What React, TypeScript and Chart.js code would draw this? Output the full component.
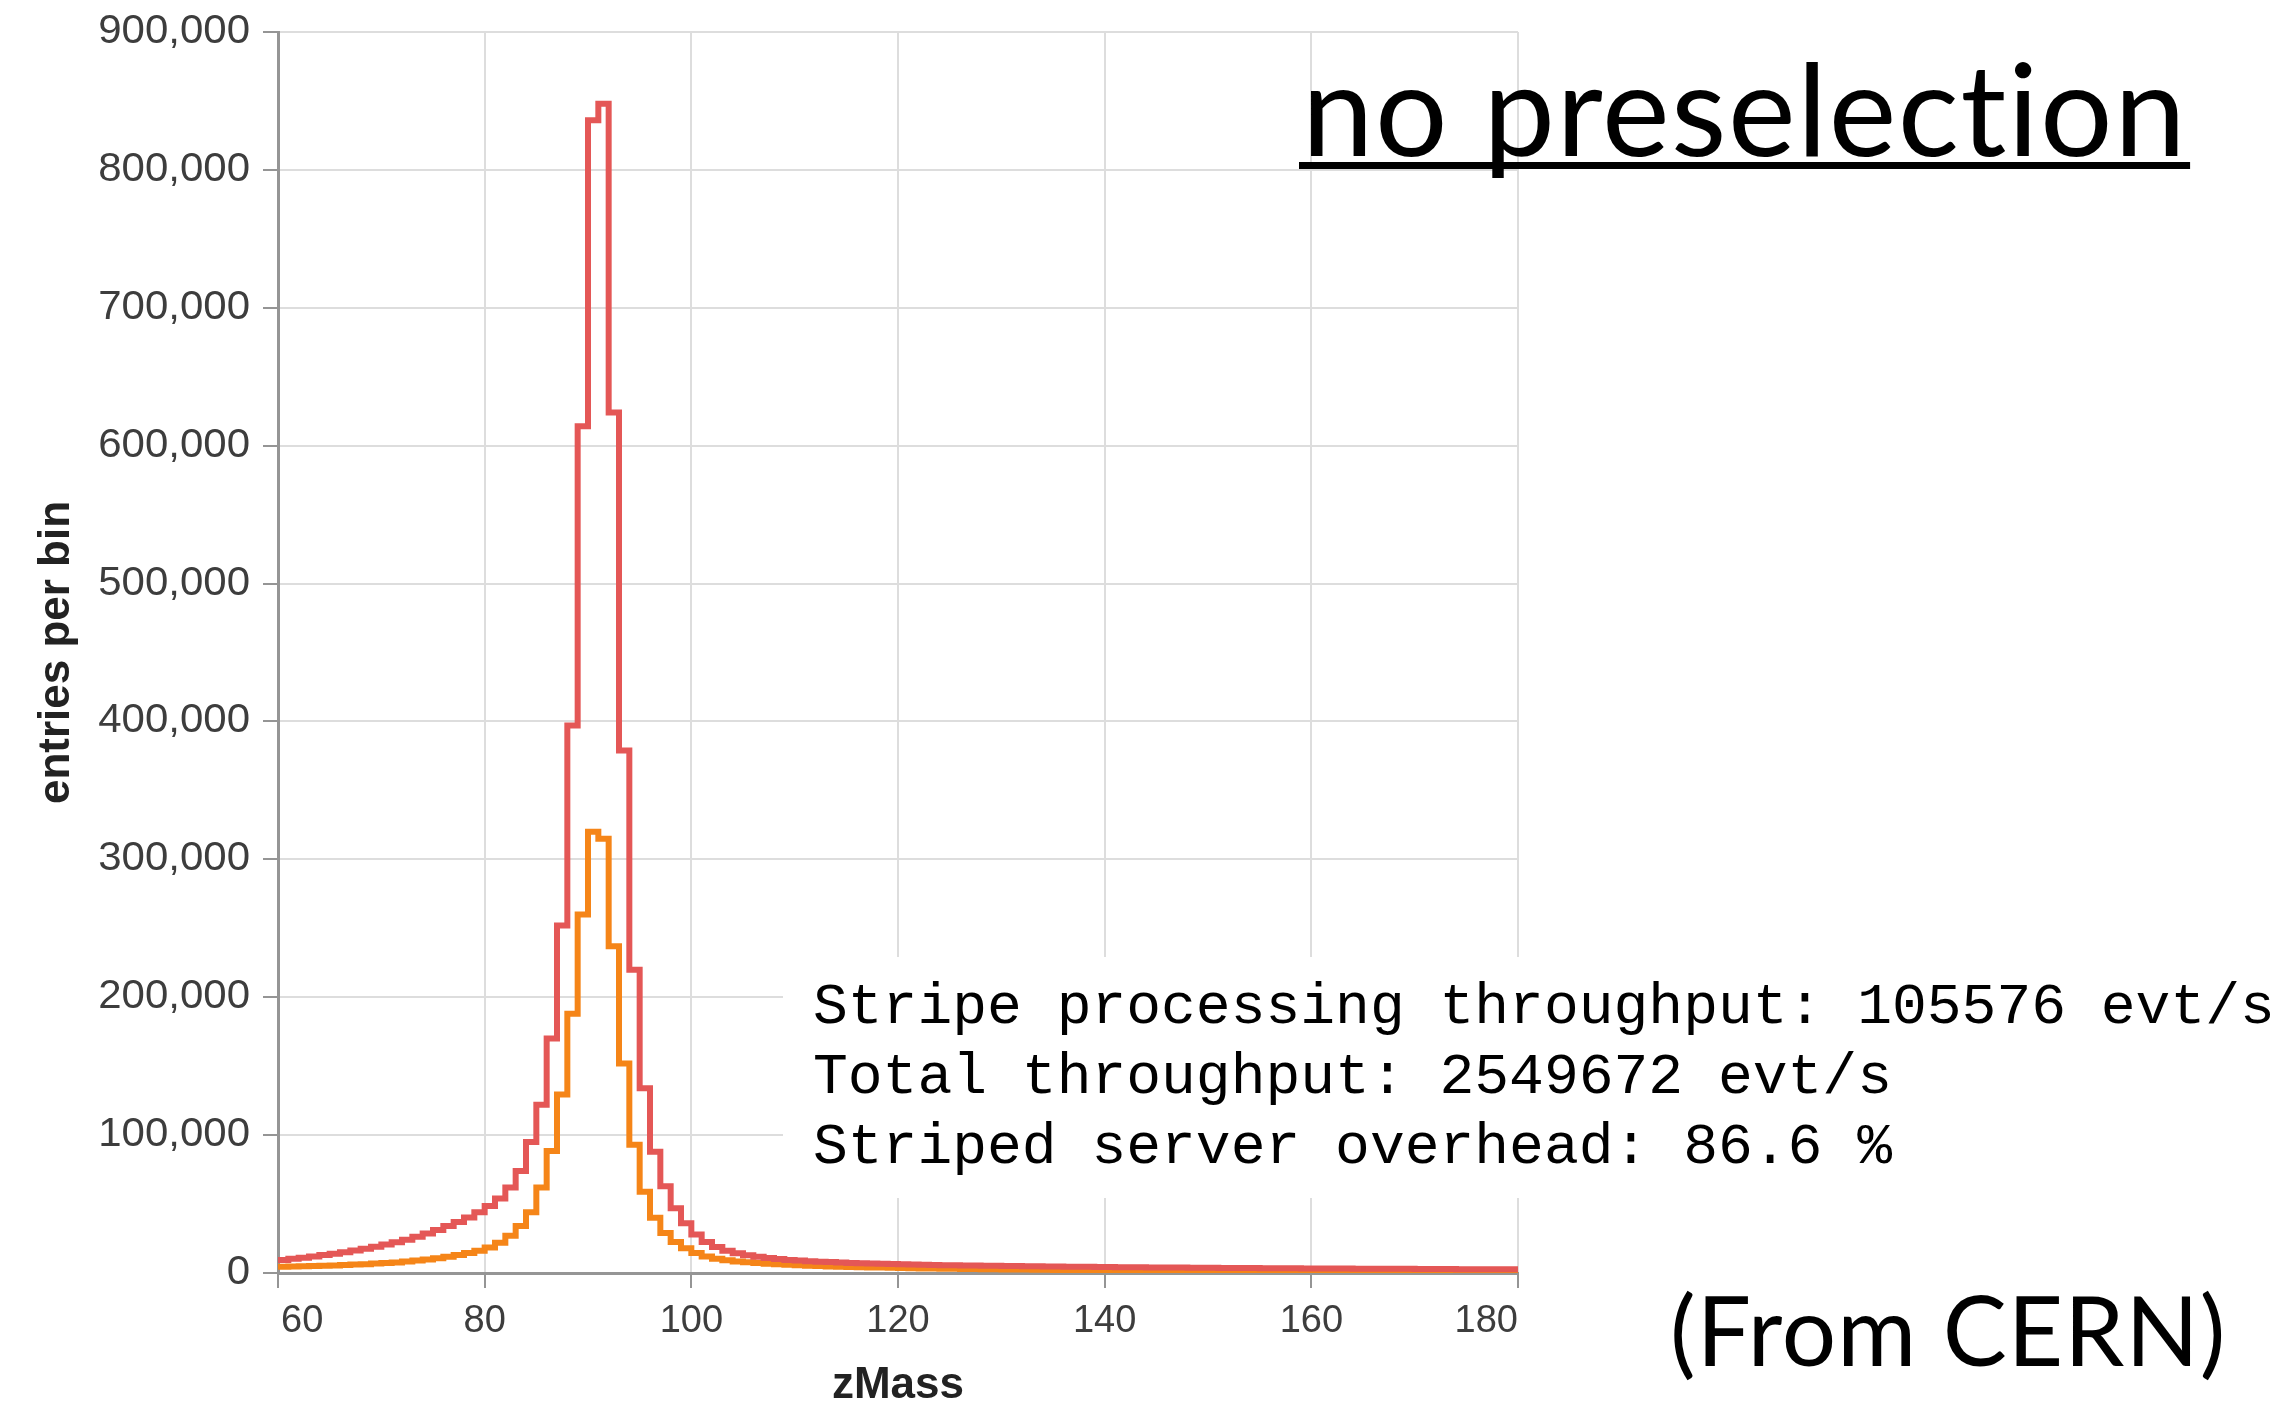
import React, { useEffect, useRef } from 'react';
import { Chart, registerables } from 'chart.js';

Chart.register(...registerables);

// ---------------- data ----------------
const BIN_START = 60; // left edge of first bin (GeV)
const BIN_WIDTH = 1; // GeV
const X_MIN = 60;
const X_MAX = 180;
const X_STEP = 20;
const Y_MIN = 0;
const Y_MAX = 900000;
const Y_STEP = 100000;

// entries per bin, no preselection (red), bins 60..179
const zMassAll = [
  9500, 10300, 11100, 12000, 13000, 14000, 15100, 16300, 17600, 19000,
  20600, 22300, 24200, 26300, 28600, 31200, 34000, 37000, 40300, 44000,
  48500, 54000, 62000, 74000, 95000, 122000, 170000, 252000, 397000, 614000,
  836000, 848000, 624000, 379000, 220000, 134000, 88000, 63000, 47000, 36000,
  28000, 22500, 18800, 16200, 14300, 12800, 11700, 10800, 10100, 9500,
  9000, 8600, 8200, 7900, 7600, 7300, 7050, 6850, 6650, 6450,
  6300, 6150, 6000, 5850, 5700, 5600, 5500, 5400, 5300, 5200,
  5100, 5000, 4900, 4850, 4750, 4700, 4600, 4550, 4450, 4400,
  4300, 4250, 4200, 4150, 4050, 4000, 3950, 3900, 3850, 3800,
  3750, 3700, 3650, 3600, 3550, 3500, 3450, 3450, 3400, 3350,
  3300, 3250, 3250, 3200, 3150, 3100, 3100, 3050, 3000, 3000,
  2950, 2900, 2900, 2850, 2800, 2800, 2750, 2750, 2700, 2700,
];

// entries per bin, second selection (orange), bins 60..179
const zMassSelected = [
  4500, 4700, 4900, 5100, 5300, 5500, 5800, 6100, 6400, 6800,
  7200, 7700, 8300, 9000, 9800, 10700, 11800, 13000, 14500, 16200,
  18500, 22000, 27000, 34000, 44000, 62000, 88500, 129500, 188000, 260000,
  320000, 315000, 237000, 152000, 93000, 59000, 40000, 29000, 22500, 18000,
  14500, 12000, 10300, 9200, 8400, 7800, 7200, 6700, 6300, 5900,
  5600, 5300, 5050, 4800, 4600, 4400, 4200, 4050, 3900, 3750,
  3600, 3500, 3350, 3250, 3150, 3050, 2950, 2850, 2750, 2700,
  2600, 2550, 2450, 2400, 2300, 2250, 2200, 2150, 2100, 2050,
  2000, 1950, 1900, 1850, 1800, 1750, 1700, 1700, 1650, 1600,
  1600, 1550, 1500, 1500, 1450, 1450, 1400, 1400, 1350, 1350,
  1350, 1300, 1300, 1250, 1250, 1200, 1200, 1200, 1150, 1150,
  1150, 1100, 1100, 1100, 1050, 1050, 1050, 1000, 1000, 1000,
];

const X_TITLE = 'zMass';
const Y_TITLE = 'entries per bin';
const PANEL_TITLE = 'no preselection';
const STATS_LINES = [
  'Stripe processing throughput: 105576 evt/s',
  'Total throughput: 2549672 evt/s',
  'Striped server overhead: 86.6 %',
];
const SOURCE_NOTE = '(From CERN)';

// ---------------- styling ----------------
const RED = '#e45756';
const ORANGE = '#f58518';
const GRID = '#dddddd';
const AXIS = '#959595';
const LABEL = '#3d3d3d';
const TITLE = '#222222';
const Y_TICK_FONT = '40px "Liberation Sans", Arial, Helvetica, sans-serif';
const X_TICK_FONT = '38px "Liberation Sans", Arial, Helvetica, sans-serif';
const AXIS_TITLE_FONT = 'bold 44px "Liberation Sans", Arial, Helvetica, sans-serif';

const toSteps = (vals: number[]) => {
  const pts = vals.map((v, i) => ({ x: BIN_START + i * BIN_WIDTH, y: v }));
  pts.push({ x: BIN_START + vals.length * BIN_WIDTH, y: vals[vals.length - 1] });
  return pts;
};

const decorPlugin = {
  id: 'decor',
  afterDraw(chart: any) {
    const ctx: any = chart.ctx;
    const xs = chart.scales.x;
    const ys = chart.scales.y;
    ctx.save();

    // y tick labels (slightly widened, like the reference rendering)
    ctx.fillStyle = LABEL;
    ctx.font = Y_TICK_FONT;
    ctx.textAlign = 'right';
    ctx.textBaseline = 'middle';
    ys.ticks.forEach((t: any) => {
      ctx.save();
      ctx.translate(ys.right - 28, ys.getPixelForValue(t.value));
      ctx.scale(1.05, 1);
      ctx.fillText(Number(t.value).toLocaleString('en-US'), 0, 0);
      ctx.restore();
    });

    // x tick labels (flush at the ends)
    ctx.font = X_TICK_FONT;
    const n = xs.ticks.length;
    xs.ticks.forEach((t: any, i: number) => {
      const px = xs.getPixelForValue(t.value);
      if (i === 0) {
        ctx.textAlign = 'left';
        ctx.fillText(String(t.value), px + 3, xs.top + 49);
      } else if (i === n - 1) {
        ctx.textAlign = 'right';
        ctx.fillText(String(t.value), px, xs.top + 49);
      } else {
        ctx.textAlign = 'center';
        ctx.fillText(String(t.value), px, xs.top + 49);
      }
    });

    // axis titles
    ctx.fillStyle = TITLE;
    ctx.font = AXIS_TITLE_FONT;
    ctx.textAlign = 'center';
    ctx.textBaseline = 'middle';
    ctx.fillText(X_TITLE, (xs.left + xs.right) / 2, 1386);
    ctx.save();
    ctx.translate(57, (ys.top + ys.bottom) / 2);
    ctx.rotate(-Math.PI / 2);
    ctx.fillText(Y_TITLE, 0, 0);
    ctx.restore();

    // stats panel
    ctx.fillStyle = '#ffffff';
    ctx.fillRect(783, 957, 2295 - 783, 1198 - 957);
    ctx.fillStyle = '#000000';
    ctx.font = '58px "Liberation Mono", "Courier New", monospace';
    ctx.textAlign = 'left';
    ctx.textBaseline = 'alphabetic';
    STATS_LINES.forEach((line, i) => ctx.fillText(line, 813, 1023 + i * 70));

    // panel title, underlined (no ligatures)
    ctx.textRendering = 'optimizeSpeed';
    ctx.letterSpacing = '1.5px';
    ctx.font = '128px Lato, "Open Sans", sans-serif';
    ctx.fillText(PANEL_TITLE, 1302, 156);
    const w = ctx.measureText(PANEL_TITLE).width;
    ctx.fillRect(1299, 162, w + 6, 7);

    // source note
    ctx.letterSpacing = '1px';
    ctx.font = '96px Lato, "Open Sans", sans-serif';
    ctx.fillText(SOURCE_NOTE, 1670, 1366);

    ctx.restore();
  },
};

export default function App() {
  const ref = useRef<HTMLCanvasElement>(null);

  useEffect(() => {
    if (!ref.current) return;
    const gridOpts = { color: GRID, lineWidth: 2, drawTicks: true, tickLength: 15, tickColor: AXIS, tickWidth: 2 };
    const chart = new Chart(ref.current, {
      type: 'line',
      data: {
        datasets: [
          {
            label: 'all events',
            data: toSteps(zMassAll),
            borderColor: RED,
            backgroundColor: RED,
            borderWidth: 6,
            pointRadius: 0,
            stepped: 'before',
            fill: false,
            tension: 0,
          },
          {
            label: 'selected',
            data: toSteps(zMassSelected),
            borderColor: ORANGE,
            backgroundColor: ORANGE,
            borderWidth: 6,
            pointRadius: 0,
            stepped: 'before',
            fill: false,
            tension: 0,
          },
        ],
      },
      options: {
        animation: false,
        responsive: true,
        maintainAspectRatio: false,
        devicePixelRatio: 1,
        events: [],
        layout: { padding: { top: 32, right: 777, bottom: 0, left: 0 } },
        plugins: { legend: { display: false }, tooltip: { enabled: false }, title: { display: false } },
        scales: {
          x: {
            type: 'linear',
            min: X_MIN,
            max: X_MAX,
            ticks: { display: false, stepSize: X_STEP },
            grid: gridOpts,
            border: { display: true, color: AXIS, width: 3 },
            afterFit: (s: any) => { s.height = 140; },
          },
          y: {
            type: 'linear',
            min: Y_MIN,
            max: Y_MAX,
            ticks: { display: false, stepSize: Y_STEP },
            grid: gridOpts,
            border: { display: true, color: AXIS, width: 3 },
            afterFit: (s: any) => { s.width = 278; },
          },
        },
      },
      plugins: [decorPlugin],
    } as any);
    return () => chart.destroy();
  }, []);

  return (
    <div style={{ position: 'absolute', left: 0, top: 0, width: 2295, height: 1413, background: '#ffffff' }}>
      <canvas ref={ref} />
    </div>
  );
}
